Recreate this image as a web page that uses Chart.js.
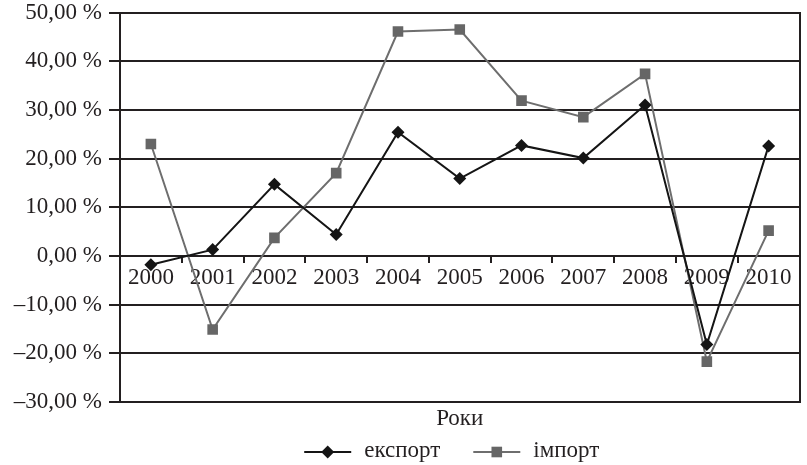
<!DOCTYPE html>
<html>
<head>
<meta charset="utf-8">
<script src="https://cdn.jsdelivr.net/npm/chart.js@4.4.0/dist/chart.umd.min.js"></script>
<style>
html,body{margin:0;padding:0;background:#fff;}
#wrap{width:807px;height:465px;}
</style>
</head>
<body>
<div id="wrap"><canvas id="c" width="807" height="465"></canvas></div>
<script>
// ---- data ----
const years = ['2000','2001','2002','2003','2004','2005','2006','2007','2008','2009','2010'];
const exportValues = [-1.8, 1.3, 14.7, 4.4, 25.4, 15.9, 22.7, 20.1, 31.0, -18.2, 22.6];
const importValues = [23.0, -15.1, 3.7, 17.0, 46.1, 46.5, 31.9, 28.5, 37.4, -21.7, 5.2];
const yTickValues = [50, 40, 30, 20, 10, 0, -10, -20, -30];
const yTickLabels = ['50,00 %','40,00 %','30,00 %','20,00 %','10,00 %','0,00 %','–10,00 %','–20,00 %','–30,00 %'];
const seriesNames = ['експорт', 'імпорт'];
const xAxisTitle = 'Роки';

// ---- styles ----
const INK = '#231f20';
const FONT = "'Liberation Serif', 'Times New Roman', Tinos, serif";
const FS = 23;

function drawMarker(ctx, style, r, x, y, color) {
  ctx.save();
  ctx.fillStyle = color;
  ctx.beginPath();
  if (style === 'rectRot') {
    ctx.moveTo(x, y - r); ctx.lineTo(x + r, y); ctx.lineTo(x, y + r); ctx.lineTo(x - r, y);
  } else {
    const s = Math.SQRT1_2 * r;
    ctx.rect(x - s, y - s, 2 * s, 2 * s);
  }
  ctx.closePath();
  ctx.fill();
  ctx.restore();
}

const lineLegend = {
  id: 'lineLegend',
  afterDraw(chart) {
    const ctx = chart.ctx, ca = chart.chartArea;
    ctx.save();
    ctx.font = FS + 'px ' + FONT;
    const lineLen = 47, gapText = 13, gapItem = 33;
    const items = chart.data.datasets.map(ds => ({ ds, w: ctx.measureText(ds.label).width }));
    const total = items.reduce((s, it) => s + lineLen + gapText + it.w, 0) + gapItem * (items.length - 1);
    let x = (ca.left + ca.right) / 2 - total / 2 - 8;
    const yLine = chart.height - 13;
    items.forEach(it => {
      const ds = it.ds;
      ctx.strokeStyle = ds.borderColor;
      ctx.lineWidth = ds.borderWidth;
      ctx.beginPath(); ctx.moveTo(x, yLine); ctx.lineTo(x + lineLen, yLine); ctx.stroke();
      drawMarker(ctx, ds.pointStyle, ds.pointRadius, x + lineLen / 2, yLine, ds.pointBackgroundColor);
      ctx.fillStyle = INK;
      ctx.textBaseline = 'alphabetic';
      ctx.textAlign = 'left';
      ctx.fillText(ds.label, x + lineLen + gapText, yLine + 5);
      x += lineLen + gapText + it.w + gapItem;
    });
    ctx.restore();
  }
};

function build() {
  new Chart(document.getElementById('c'), {
    type: 'line',
    data: {
      labels: years,
      datasets: [
        {
          label: seriesNames[0],
          data: exportValues,
          borderColor: '#151515',
          backgroundColor: '#151515',
          pointBackgroundColor: '#151515',
          pointBorderColor: '#151515',
          borderWidth: 2,
          pointStyle: 'rectRot',
          pointRadius: 6.5,
          pointBorderWidth: 0,
          tension: 0,
          xAxisID: 'x', yAxisID: 'y'
        },
        {
          label: seriesNames[1],
          data: importValues,
          borderColor: '#6e6e6e',
          backgroundColor: '#666666',
          pointBackgroundColor: '#666666',
          pointBorderColor: '#666666',
          borderWidth: 2,
          pointStyle: 'rect',
          pointRadius: 7.5,
          pointBorderWidth: 0,
          tension: 0,
          xAxisID: 'x', yAxisID: 'y'
        }
      ]
    },
    options: {
      responsive: false,
      animation: false,
      devicePixelRatio: 1,
      layout: { padding: { top: 12.5, right: 1, bottom: 32, left: 0 } },
      plugins: {
        legend: { display: false },
        tooltip: { enabled: false }
      },
      scales: {
        y: {
          type: 'linear',
          min: -30, max: 50,
          afterFit: s => { s.width = 120; s.paddingTop = 0; s.paddingBottom = 0; },
          ticks: {
            stepSize: 10,
            color: INK,
            font: { family: FONT, size: FS },
            padding: 7,
            callback: v => { const i = yTickValues.indexOf(v); return i >= 0 ? yTickLabels[i] : ''; }
          },
          grid: { color: INK, lineWidth: 2, tickLength: 11, drawTicks: true },
          border: { display: true, color: INK, width: 2 }
        },
        yR: {
          type: 'linear', position: 'right', min: -30, max: 50,
          afterFit: s => { s.width = 0; s.paddingTop = 0; s.paddingBottom = 0; },
          ticks: { display: false },
          grid: { display: false, drawTicks: false },
          border: { display: true, color: INK, width: 2 }
        },
        x: {
          type: 'category',
          position: { y: 0 },
          offset: true,
          afterFit: s => { s.height = 0; s.paddingLeft = 0; s.paddingRight = 0; },
          ticks: {
            color: INK,
            font: { family: FONT, size: FS },
            padding: 1,
            maxRotation: 0,
            autoSkip: false
          },
          grid: { display: true, drawOnChartArea: false, offset: true, tickLength: 7, color: INK, lineWidth: 2 },
          border: { display: false }
        },
        x2: {
          type: 'category',
          labels: years,
          position: 'bottom',
          afterFit: s => { s.height = 31; s.paddingLeft = 0; s.paddingRight = 0; },
          ticks: { display: false },
          grid: { display: false, drawTicks: false },
          border: { display: false },
          title: { display: true, text: xAxisTitle, color: INK, font: { family: FONT, size: FS }, padding: { top: 0, bottom: 0 } }
        }
      }
    },
    plugins: [lineLegend]
  });
}

if (document.fonts && document.fonts.load) {
  document.fonts.load(FS + "px 'Liberation Serif'", 'Роки 2000').then(build, build);
} else {
  build();
}
</script>
</body>
</html>
